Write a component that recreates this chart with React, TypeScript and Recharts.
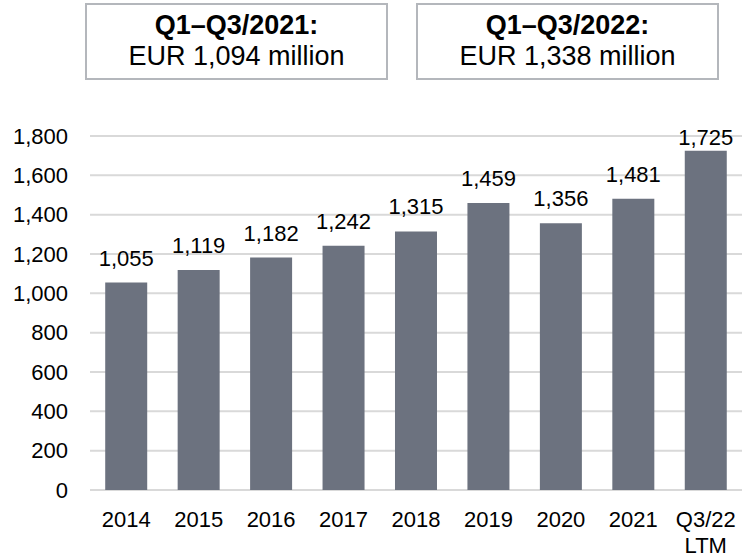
import { BarChart, Bar, XAxis, YAxis, CartesianGrid, LabelList } from 'recharts';

const categories = ['2014', '2015', '2016', '2017', '2018', '2019', '2020', '2021', 'Q3/22 LTM'];
const revenue = [1055, 1119, 1182, 1242, 1315, 1459, 1356, 1481, 1725];
const yTicks = [0, 200, 400, 600, 800, 1000, 1200, 1400, 1600, 1800];
const boxTitles = ['Q1–Q3/2021:', 'Q1–Q3/2022:'];
const boxValues = ['EUR 1,094 million', 'EUR 1,338 million'];

const data = categories.map((c, i) => ({ name: c, value: revenue[i] }));

const FONT = '"Liberation Sans", Arial, Helvetica, sans-serif';
const fmt = (v: number) => v.toLocaleString('en-US');

function XTick({ x, y, payload }: any) {
  const lines = String(payload.value).split(' ');
  return (
    <text x={x} y={y} textAnchor="middle" fontSize={22} fill="#000" fontFamily={FONT}>
      {lines.map((l, i) => (
        <tspan key={i} x={x} dy={i === 0 ? 37 : 26}>{l}</tspan>
      ))}
    </text>
  );
}

function TopLabel({ x, y, width, value }: any) {
  // keep the label inside the chart when the bar reaches the top
  const baseline = Math.max(y - 17, 145);
  return (
    <text x={x + width / 2} y={baseline} textAnchor="middle" fontSize={22} fill="#000" fontFamily={FONT}>
      {fmt(value)}
    </text>
  );
}

const boxLayout = [
  { left: 85, width: 303 },
  { left: 416, width: 303 },
];

export default function App() {
  return (
    <div style={{ position: 'absolute', left: 0, top: 0, width: 742, height: 558, background: '#fff', fontFamily: FONT }}>
      {boxTitles.map((t, i) => (
        <div
          key={t}
          style={{
            position: 'absolute',
            top: 3,
            left: boxLayout[i].left,
            width: boxLayout[i].width,
            height: 77,
            boxSizing: 'border-box',
            border: '2px solid #b4b7bc',
            textAlign: 'center',
            color: '#000',
            fontSize: 27,
            lineHeight: '31px',
            paddingTop: 5,
            whiteSpace: 'nowrap',
          }}
        >
          <div style={{ fontWeight: 'bold' }}>{t}</div>
          <div>{boxValues[i]}</div>
        </div>
      ))}
      <div style={{ position: 'absolute', left: 0, top: 0 }}>
        <BarChart
          width={742}
          height={558}
          data={data}
          margin={{ top: 136, right: 0, bottom: 0, left: 0 }}
          barCategoryGap="21%"
        >
          <CartesianGrid vertical={false} stroke="#d9d9d9" strokeWidth={2} />
          <XAxis
            dataKey="name"
            height={68}
            axisLine={false}
            tickLine={false}
            tickSize={0}
            tickMargin={0}
            interval={0}
            tick={<XTick />}
          />
          <YAxis
            width={90}
            domain={[0, 1800]}
            ticks={yTicks}
            axisLine={false}
            tickLine={false}
            tickSize={0}
            tickMargin={22}
            tickFormatter={fmt}
            tick={{ fontSize: 22, fill: '#000', fontFamily: FONT }}
          />
          <Bar dataKey="value" fill="#6c727f" isAnimationActive={false}>
            <LabelList dataKey="value" content={<TopLabel />} />
          </Bar>
        </BarChart>
      </div>
    </div>
  );
}
